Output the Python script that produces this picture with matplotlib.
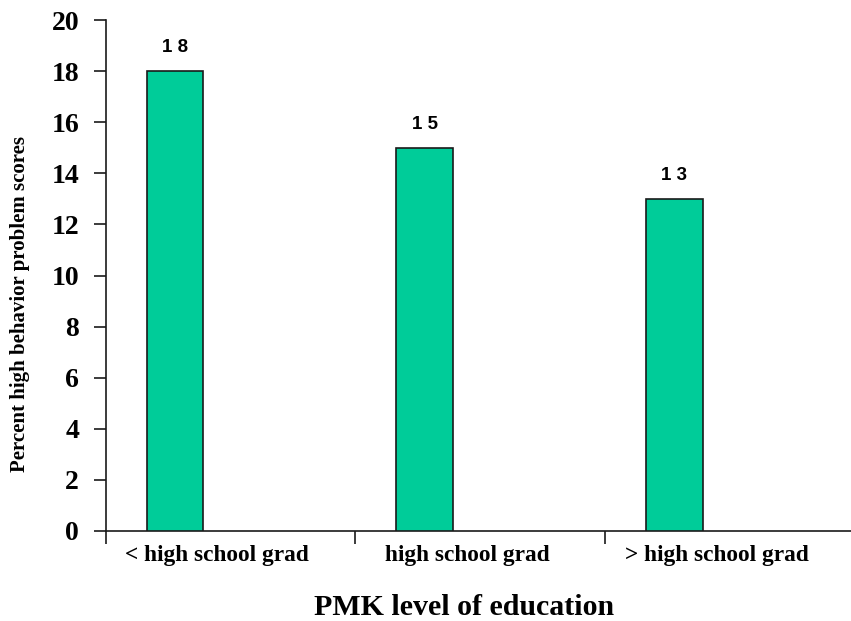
import matplotlib
matplotlib.use("Agg")
import matplotlib.pyplot as plt
from matplotlib.ticker import FixedLocator, NullFormatter

categories = ["< high school grad", "high school grad", "> high school grad"]
values = [18, 15, 13]
y_ticks = [0, 2, 4, 6, 8, 10, 12, 14, 16, 18, 20]

W, H = 851, 621
fig = plt.figure(figsize=(W / 100, H / 100), dpi=100)
left_px, right_px, bottom_px, top_px = 105.5, 851, 531, 20
ax = fig.add_axes([left_px / W, 1 - bottom_px / H,
                   (right_px - left_px) / W, (bottom_px - top_px) / H])

slot = 249.7
x = list(range(len(categories)))
bar_offset = -0.222
bar_width = 0.227
ax.bar([i + bar_offset for i in x], values, width=bar_width,
       color="#00CC99", edgecolor="#1a1a1a", linewidth=1.2, zorder=3)

# value labels, digits spaced apart
for i, v in enumerate(values):
    ax.text(i + bar_offset, v + 0.75, " ".join(str(v)), ha="center", va="baseline",
            fontsize=13.5, fontweight="bold", family="Liberation Sans")

ax.set_xlim(-0.5, -0.5 + (right_px - left_px) / slot)
ax.set_ylim(0, 20)

for s in ("top", "right"):
    ax.spines[s].set_visible(False)
for s in ("left", "bottom"):
    ax.spines[s].set_linewidth(1.2)
    ax.spines[s].set_color("#1a1a1a")

ax.set_yticks(y_ticks)
ax.set_yticklabels([str(t) for t in y_ticks], fontsize=20, fontweight="bold",
                   family="Liberation Serif")
ax.tick_params(axis="y", direction="out", length=9, width=1.2, pad=10, color="#1a1a1a")

ax.set_xticks([i - 0.052 for i in x])
ax.set_xticklabels(categories, fontsize=16.8, fontweight="bold", family="Liberation Serif")
ax.tick_params(axis="x", which="major", length=0, pad=10)
ax.xaxis.set_minor_locator(FixedLocator([-0.5, 0.5, 1.5, 2.5]))
ax.xaxis.set_minor_formatter(NullFormatter())
ax.tick_params(axis="x", which="minor", direction="out", length=9, width=1.2, color="#1a1a1a")

fig.text(464.5 / W, 1 - 615 / H, "PMK level of education", ha="center", va="baseline",
         fontsize=21.5, fontweight="bold", family="Liberation Serif")
fig.text(20 / W, 1 - 304.5 / H, "Percent high behavior problem scores", ha="center",
         va="center", rotation=90, fontsize=15, fontweight="bold", family="Liberation Serif")

fig.savefig("out.png", dpi=100)
